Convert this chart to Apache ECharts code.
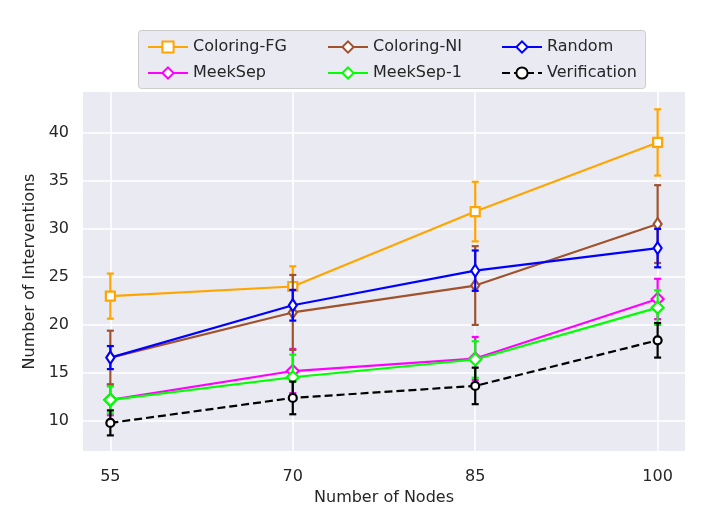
<!DOCTYPE html>
<html><head><meta charset="utf-8">
<script src="https://cdn.jsdelivr.net/npm/echarts@6/dist/echarts.min.js"></script>
<style>html,body{margin:0;padding:0;background:#fff}#c{width:706px;height:529px}</style>
</head><body><div id="c"></div>
<script>
const nodes = [55, 70, 85, 100];
const yTicks = [10, 15, 20, 25, 30, 35, 40];
const seriesNames = ['Coloring-FG', 'MeekSep', 'Coloring-NI', 'MeekSep-1', 'Random', 'Verification'];
const coloringFG = [23.0, 24.0, 31.8, 39.0];
const coloringFGErr = [2.35, 2.1, 3.1, 3.45];
const coloringNI = [16.6, 21.3, 24.1, 30.5];
const coloringNIErr = [2.8, 3.9, 4.1, 4.05];
const random = [16.6, 22.05, 25.65, 28.0];
const randomErr = [1.2, 1.6, 2.1, 2.0];
const meekSep = [12.2, 15.2, 16.5, 22.7];
const meekSepErr = [1.6, 2.3, 2.25, 2.1];
const meekSep1 = [12.2, 14.55, 16.4, 21.8];
const meekSep1Err = [1.4, 2.35, 1.9, 1.8];
const verification = [9.8, 12.4, 13.65, 18.4];
const verificationErr = [1.3, 1.7, 1.9, 1.8];

const FONT = 'DejaVu Sans';
const cfg = {
  'Coloring-FG': {vals: coloringFG, err: coloringFGErr, color: '#FFA500', symbol: 'rect', size: [9, 9], dash: 'solid'},
  'MeekSep': {vals: meekSep, err: meekSepErr, color: '#FF00FF', symbol: 'diamond', size: [12, 12], dash: 'solid'},
  'Coloring-NI': {vals: coloringNI, err: coloringNIErr, color: '#A0522D', symbol: 'diamond', size: [8, 12], dash: 'solid'},
  'MeekSep-1': {vals: meekSep1, err: meekSep1Err, color: '#00FF00', symbol: 'diamond', size: [12, 12], dash: 'solid'},
  'Random': {vals: random, err: randomErr, color: '#0000FF', symbol: 'diamond', size: [8, 12], dash: 'solid'},
  'Verification': {vals: verification, err: verificationErr, color: '#000000', symbol: 'circle', size: [8, 8], dash: [8, 4]}
};

const series = [];
seriesNames.forEach((name, i) => {
  const c = cfg[name];
  series.push({
    type: 'custom',
    name: name + ' err',
    z: 10 + i * 2,
    silent: true,
    data: nodes.map((x, k) => [x, c.vals[k] - c.err[k], c.vals[k] + c.err[k]]),
    renderItem: function (params, api) {
      const lo = api.coord([api.value(0), api.value(1)]);
      const hi = api.coord([api.value(0), api.value(2)]);
      const w = 3.5;
      const st = {stroke: c.color, lineWidth: 2.2};
      return {type: 'group', children: [
        {type: 'line', shape: {x1: lo[0], y1: lo[1], x2: hi[0], y2: hi[1]}, style: st},
        {type: 'line', shape: {x1: lo[0] - w, y1: lo[1], x2: lo[0] + w, y2: lo[1]}, style: st},
        {type: 'line', shape: {x1: hi[0] - w, y1: hi[1], x2: hi[0] + w, y2: hi[1]}, style: st}
      ]};
    }
  });
  series.push({
    type: 'line',
    name: name,
    z: 11 + i * 2,
    data: nodes.map((x, k) => [x, c.vals[k]]),
    symbol: c.symbol,
    symbolSize: c.size,
    showAllSymbol: true,
    color: c.color,
    lineStyle: {color: c.color, width: 2.2, type: c.dash},
    itemStyle: {color: '#ffffff', borderColor: c.color, borderWidth: 2.2},
    emphasis: {disabled: true}
  });
});

function legendCol(names, left) {
  return {
    orient: 'vertical', left: left, top: 34, itemWidth: 40, itemHeight: 14, itemGap: 10,
    data: names,
    textStyle: {fontFamily: FONT, fontSize: 16, color: '#262626'}
  };
}

const chart = echarts.init(document.getElementById('c'), null, {renderer: 'canvas'});
chart.setOption({
  animation: false,
  backgroundColor: '#ffffff',
  graphic: [{type: 'rect', left: 138, top: 30, shape: {width: 507, height: 58, r: 3},
    style: {fill: '#EAEAF2', stroke: '#CCCCCC', lineWidth: 1}, z: -1}],
  legend: [
    legendCol(['Coloring-FG', 'MeekSep'], 142),
    legendCol(['Coloring-NI', 'MeekSep-1'], 322),
    legendCol(['Random', 'Verification'], 496)
  ],
  grid: {left: 83, right: 21, top: 92, bottom: 78, backgroundColor: '#EAEAF2', show: true, borderWidth: 0},
  xAxis: {
    type: 'value', min: 52.75, max: 102.25,
    name: 'Number of Nodes', nameLocation: 'middle', nameGap: 34,
    nameTextStyle: {fontFamily: FONT, fontSize: 16, color: '#262626'},
    axisLine: {show: false}, axisTick: {show: false, customValues: nodes},
    axisLabel: {customValues: nodes, margin: 18, fontFamily: FONT, fontSize: 16, color: '#262626'},
    splitLine: {show: true, lineStyle: {color: '#ffffff', width: 1.5}}
  },
  yAxis: {
    type: 'value', min: 6.875, max: 44.25,
    name: 'Number of Interventions', nameLocation: 'middle', nameGap: 40,
    nameTextStyle: {fontFamily: FONT, fontSize: 16, color: '#262626'},
    axisLine: {show: false}, axisTick: {show: false, customValues: yTicks},
    axisLabel: {customValues: yTicks, margin: 14, fontFamily: FONT, fontSize: 16, color: '#262626'},
    splitLine: {show: true, lineStyle: {color: '#ffffff', width: 1.5}}
  },
  series: series
});
</script></body></html>
